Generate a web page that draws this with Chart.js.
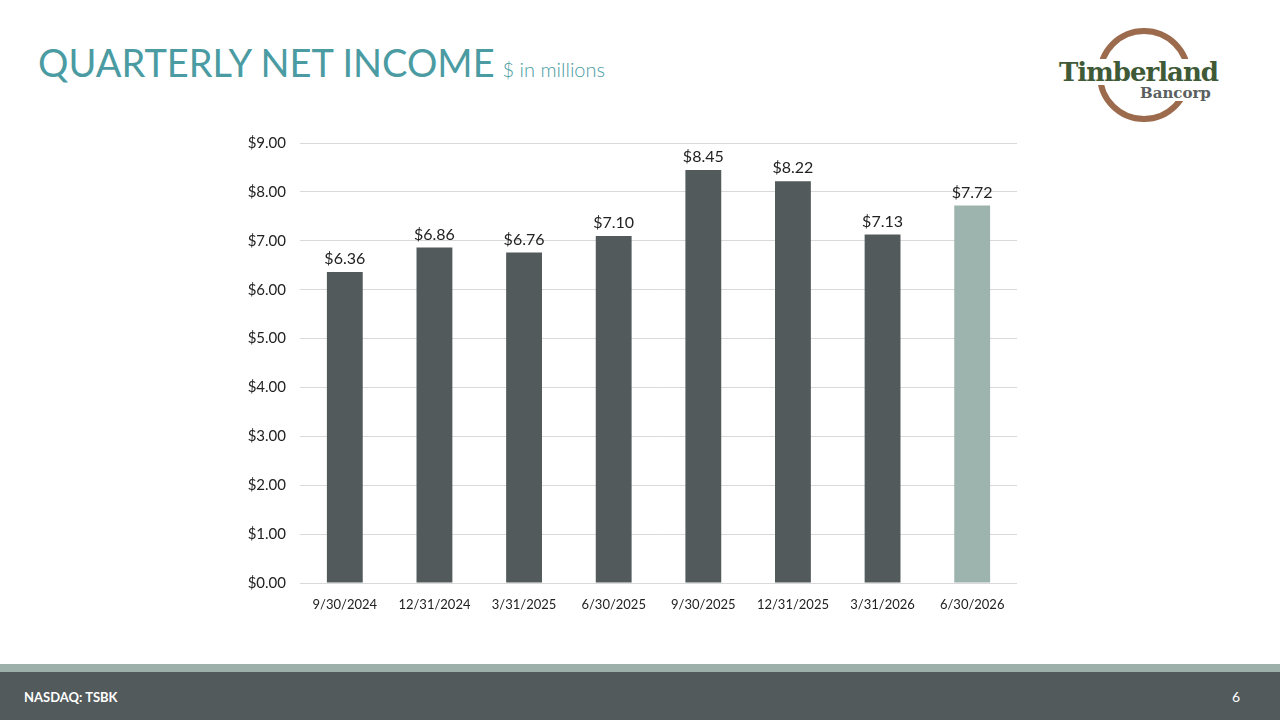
<!DOCTYPE html>
<html>
<head>
<meta charset="utf-8">
<script src="https://cdn.jsdelivr.net/npm/chart.js"></script>
<style>
  body { margin: 0; width: 1280px; height: 720px; background: #fff; overflow: hidden; position: relative; font-family: Lato, "Open Sans", sans-serif; }
  #title { position: absolute; left: 38px; top: 39px; color: #4A9BA2; font-size: 38px; white-space: nowrap; }
  #title span { font-size: 20px; margin-left: 8px; font-weight: 300; }
  #logo { position: absolute; left: 1058px; top: 28px; width: 170px; height: 96px; }
  #ring { position: absolute; left: 39px; top: 0; width: 82px; height: 82px; border: 6px solid #9C6B4E; border-radius: 50%; }
  #logo .t1 { position: absolute; left: 1px; top: 31px; font-family: "DejaVu Serif", serif; font-weight: bold; font-size: 26px; color: #3F5A36; background: #fff; letter-spacing: -1px; line-height: 26px; }
  #logo .t2 { position: absolute; left: 82px; top: 57px; font-family: "DejaVu Serif", serif; font-weight: bold; font-size: 15px; color: #5A5F60; background: #fff; line-height: 16px; }
  #wrap { position: absolute; left: 220px; top: 120px; width: 797px; height: 503px; }
  #band { position: absolute; left: 0; top: 664px; width: 1280px; height: 8px; background: #9DB0A9; }
  #foot { position: absolute; left: 0; top: 672px; width: 1280px; height: 48px; background: #525A5C; color: #fff; }
  #foot .l { position: absolute; left: 24px; top: 17px; font-size: 13px; font-weight: bold; }
  #foot .r { position: absolute; right: 40px; top: 16px; font-size: 14px; }
</style>
</head>
<body>
<div id="title">QUARTERLY NET INCOME<span>$ in millions</span></div>
<div id="logo"><div id="ring"></div><div class="t1">Timberland</div><div class="t2">Bancorp</div></div>
<div id="wrap"><canvas id="myChart"></canvas></div>
<div id="band"></div>
<div id="foot"><div class="l">NASDAQ: TSBK</div><div class="r">6</div></div>
<script>
const quarters = ['9/30/2024', '12/31/2024', '3/31/2025', '6/30/2025', '9/30/2025', '12/31/2025', '3/31/2026', '6/30/2026']
const netIncome = [6.36, 6.86, 6.76, 7.10, 8.45, 8.22, 7.13, 7.72]
const barColors = ['#525A5C', '#525A5C', '#525A5C', '#525A5C', '#525A5C', '#525A5C', '#525A5C', '#9DB3AD']

const money = (v) => '$' + Number(v).toFixed(2)

const valueLabels = {
    id: 'valueLabels',
    afterDatasetsDraw(chart) {
        const ctx = chart.ctx
        const meta = chart.getDatasetMeta(0)
        ctx.save()
        ctx.font = '16px Lato, "Open Sans", sans-serif'
        ctx.fillStyle = '#222'
        ctx.textAlign = 'center'
        ctx.textBaseline = 'bottom'
        meta.data.forEach((bar, i) => {
            ctx.fillText(money(netIncome[i]), bar.x, bar.y - 5)
        })
        ctx.restore()
    }
}

const myChart = document.querySelector('#myChart')

new Chart(myChart, {
    type: 'bar',
    data: {
        labels: quarters,
        datasets: [{ data: netIncome, backgroundColor: barColors, barPercentage: 0.8, categoryPercentage: 0.5 }]
    },
    options: {
        responsive: true,
        maintainAspectRatio: false,
        animation: false,
        layout: { padding: { top: 3, right: 0, left: 0, bottom: 0 } },
        plugins: { legend: { display: false }, tooltip: { enabled: false } },
        scales: {
            x: {
                grid: { display: false },
                border: { color: '#D9D9D9' },
                ticks: { color: '#222', font: { size: 13, family: 'Lato, "Open Sans", sans-serif' }, padding: 6, maxRotation: 0 },
                afterFit: (axis) => { axis.height = 40 }
            },
            y: {
                min: 0,
                max: 9,
                grid: { color: '#D9D9D9', drawTicks: false },
                border: { display: false },
                ticks: { stepSize: 1, color: '#222', font: { size: 15, family: 'Lato, "Open Sans", sans-serif' }, padding: 14, callback: (v) => money(v) },
                afterFit: (axis) => { axis.width = 80 }
            }
        }
    },
    plugins: [valueLabels]
})
</script>
</body>
</html>
